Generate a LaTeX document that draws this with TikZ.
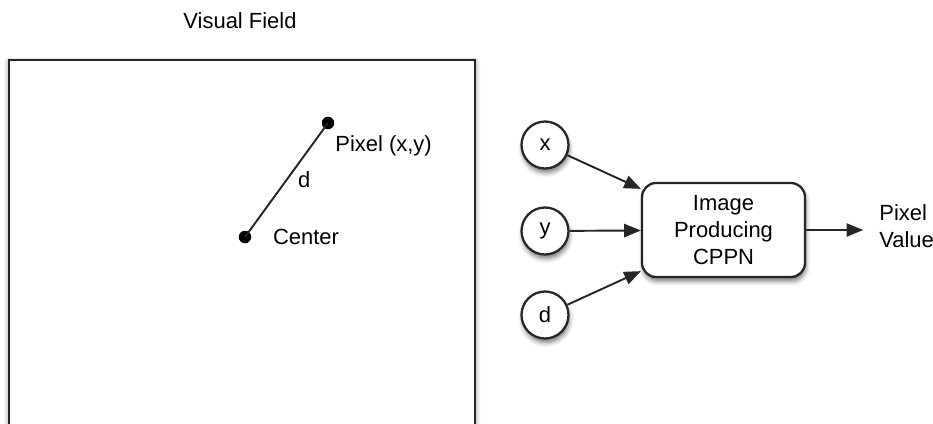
\documentclass[tikz,border=0pt]{standalone}
\usepackage{fontspec}
\setmainfont{Liberation Sans}
\usetikzlibrary{arrows.meta,positioning,calc,shadows.blur}

\newcommand{\figfont}{\fontsize{12.5}{15.5}\selectfont}

\begin{document}
\begin{tikzpicture}[
    x=0.02cm,y=-0.02cm,
    >={Triangle[length=9.5pt,width=7.5pt]},
    link/.style={->,line width=1.1pt,draw=black!85},
    soft/.style={blur shadow={shadow xshift=0.6pt,shadow yshift=-2.5pt,
      shadow blur radius=2.5pt,shadow opacity=50}},
    input/.style={circle,draw=black!85,line width=1.3pt,fill=white,
      minimum size=0.94cm,inner sep=0pt,font=\figfont,soft},
    network/.style={draw=black!85,line width=1.3pt,fill=white,
      rounded corners=8pt,minimum width=3.26cm,minimum height=1.88cm,
      align=center,font=\figfont,soft},
    spot/.style={circle,fill=black,inner sep=0pt,minimum size=0.25cm},
    plain/.style={font=\figfont,inner sep=0pt,align=left}
  ]
    \useasboundingbox (0,0) rectangle (933,423);
    \clip (0,0) rectangle (933,423);

    % Visual field with the two points.
    \node[plain] (title) at (240,21) {Visual Field};
    \draw[line width=1.1pt,draw=black!85,fill=white,
      blur shadow={shadow xshift=0pt,shadow yshift=-1pt,
      shadow blur radius=3pt,shadow opacity=50}]
      (9,60) rectangle (475,450);
    \node[spot] (pixel) at (328,123) {};
    \node[spot] (center) at (245,237) {};
    \draw[line width=1.1pt,draw=black!85] (pixel.center) --
      node[plain,right=6pt] (dist) {d} (center.center);
    \node[plain,anchor=west] (pixlabel) at (335,146) {Pixel (x,y)};
    \node[plain,right=12pt of center] (cenlabel) {Center};

    % CPPN inputs and output.
    \node[input] (xin) at (545,145) {x};
    \node[input] (yin) at (545,231) {y};
    \node[input] (din) at (545,315) {d};
    \node[network] (cppn) at (723.5,230) {Image\\Producing\\CPPN};
    \node[plain,anchor=west] (out) at (879,226) {Pixel\\Value};

    \draw[link] (xin) -- ($(cppn.north west)+(0,7)$);
    \draw[link] (yin) -- (cppn);
    \draw[link] (din) -- ($(cppn.south west)+(0,-7)$);
    \draw[link,shorten >=9pt] (cppn.east) -- (cppn.east -| out.west);
\end{tikzpicture}
\end{document}
